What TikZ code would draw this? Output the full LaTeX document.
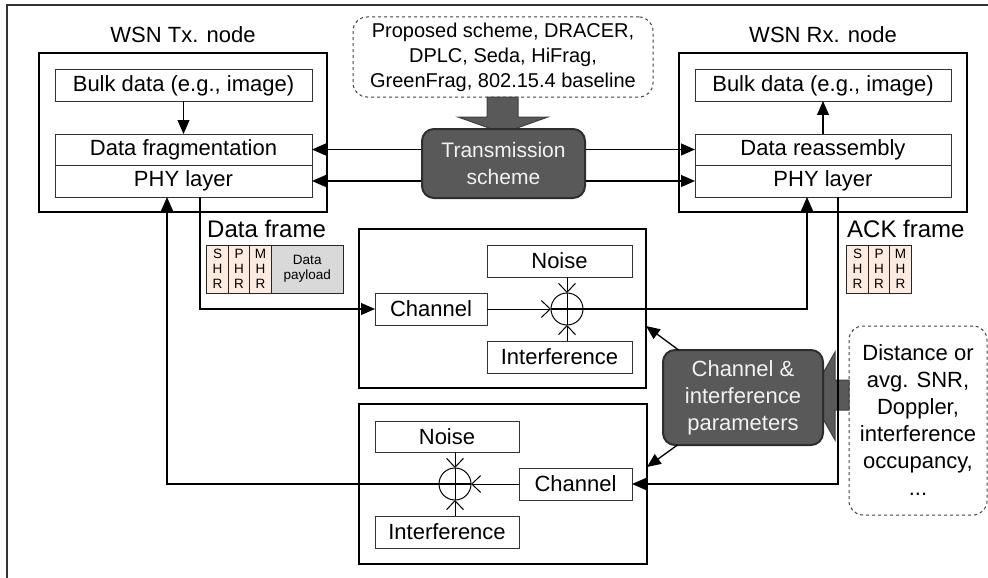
\documentclass[tikz,border=0pt]{standalone}
\usepackage{fontspec}
\setmainfont{Liberation Sans}
\usetikzlibrary{positioning}
\usetikzlibrary {shapes.geometric}
\usetikzlibrary {arrows.meta}

\definecolor{darkfill}{HTML}{595959}
\definecolor{darkline}{HTML}{2E2E2E}
\definecolor{lighttext}{HTML}{F2F2F2}
\definecolor{hdrfill}{HTML}{FDEBDF}
\definecolor{payfill}{HTML}{D9D9D9}

\begin{document}
\begin{tikzpicture}[x=1pt,y=-1pt,
        nodebox/.style = {draw, line width=2.5pt, inner sep=0pt, outer sep=0pt},
        layerbox/.style = {draw=black!80, line width=1pt, inner sep=0pt, outer sep=0pt, font=\fontsize{22}{26}\selectfont},
        darkbox/.style = {draw=darkline, fill=darkfill, line width=2pt, rounded corners=12pt, text=lighttext, align=center, inner sep=0pt, outer sep=0pt},
        notebox/.style = {draw=black!75, dashed, line width=1pt, rounded corners=14pt, align=center, inner sep=0pt},
        hdrcell/.style = {draw=black!85, fill=hdrfill, line width=1pt, minimum width=21.5pt, minimum height=48pt, inner sep=0pt, outer sep=0pt, align=center, font=\fontsize{13.5}{15}\selectfont},
        sumnode/.style = {circle, draw, line width=1pt, minimum size=32pt, inner sep=0pt, outer sep=0pt},
        link/.style = {line width=1.3pt, arrows = -{Triangle[angle=46:15pt]}},
        biglink/.style = {line width=1.5pt, arrows = {Triangle[angle=46:15pt]}-{Triangle[angle=46:15pt]}},
        barb/.style = {line width=1pt, arrows = -{Straight Barb[length=9pt,width=17pt]}},
        blockarrow/.style = {draw=black!75, fill=darkfill, line width=1pt}]

            \useasboundingbox (0,0) rectangle (988,578);
            %\draw [help lines, step=20] (0,0) grid (988,578);

            \draw[line width=2pt, black!80] (988,5) -| (7,578);

            % WSN nodes
            \path   (183,43) node (txtitle) [anchor=base, font=\fontsize{22}{26}\selectfont] {WSN Tx. node}
                    (183,132.5) node (tx) [nodebox, minimum width=288pt, minimum height=159pt] {}
                    (183.5,85.5) node (txbulk) [layerbox, minimum width=257pt, minimum height=31pt] {Bulk data (e.g., image)}
                    (183.5,149.5) node (txfrag) [layerbox, minimum width=257pt, minimum height=31pt] {Data fragmentation}
                    (183.5,181) node (txphy) [layerbox, minimum width=257pt, minimum height=32pt] {PHY layer}
                    (823,43) node (rxtitle) [anchor=base, font=\fontsize{22}{26}\selectfont] {WSN Rx. node}
                    (823,132.5) node (rx) [nodebox, minimum width=288pt, minimum height=159pt] {}
                    (823,85.5) node (rxbulk) [layerbox, minimum width=256pt, minimum height=31pt] {Bulk data (e.g., image)}
                    (823,149.5) node (rxreas) [layerbox, minimum width=256pt, minimum height=31pt] {Data reassembly}
                    (823,181) node (rxphy) [layerbox, minimum width=256pt, minimum height=32pt] {PHY layer};

            % channels
            \path   (502.5,308.5) node (chan1) [nodebox, minimum width=287pt, minimum height=159pt] {}
                    (431,309) node (ch1) [layerbox, minimum width=112pt, minimum height=32pt] {Channel}
                    (559.5,261) node (noise1) [layerbox, minimum width=145pt, minimum height=32pt] {Noise}
                    (559.5,357) node (intf1) [layerbox, minimum width=145pt, minimum height=32pt] {Interference}
                    (567,309) node (sum1) [sumnode] {}
                    (503,484) node (chan2) [nodebox, minimum width=288pt, minimum height=160pt] {}
                    (575.5,484) node (ch2) [layerbox, minimum width=113pt, minimum height=32pt] {Channel}
                    (447,436.5) node (noise2) [layerbox, minimum width=144pt, minimum height=31pt] {Noise}
                    (447,532) node (intf2) [layerbox, minimum width=144pt, minimum height=32pt] {Interference}
                    (455,484) node (sum2) [sumnode] {};

            % notes
            \path   (503,57) node (proposed) [notebox, minimum width=300pt, minimum height=80pt, font=\fontsize{20}{25}\selectfont]
                        {Proposed scheme, DRACER,\\DPLC, Seda, HiFrag,\\GreenFrag, 802.15.4 baseline}
                    (918,420.5) node (dist) [notebox, minimum width=138pt, minimum height=189pt, font=\fontsize{22}{27}\selectfont]
                        {Distance or\\avg. SNR,\\Doppler,\\interference\\occupancy,\\...};

            % frames
            \node (dflabel) [anchor=base west, inner sep=0pt, font=\fontsize{24}{28}\selectfont] at (207,237) {Data frame};
            \node (shr) [hdrcell] at (217.5,269) {S\\H\\R};
            \node (phr) [hdrcell, right=0pt of shr] {P\\H\\R};
            \node (mhr) [hdrcell, right=0pt of phr] {M\\H\\R};
            \node (payload) [hdrcell, fill=payfill, minimum width=72pt, right=0pt of mhr] {Data\\payload};
            \node (acklabel) [anchor=base west, inner sep=0pt, font=\fontsize{24}{28}\selectfont] at (847,237) {ACK frame};
            \node (ashr) [hdrcell] at (857.5,269) {S\\H\\R};
            \node (aphr) [hdrcell, right=0pt of ashr] {P\\H\\R};
            \node (amhr) [hdrcell, right=0pt of aphr] {M\\H\\R};

            \draw[link] (node cs: name =txbulk, anchor =south) -- (node cs: name =txfrag, anchor =north);
            \draw[link] (node cs: name =rxreas, anchor =north) -- (node cs: name =rxbulk, anchor =south);
            \draw[biglink] (txfrag.east) -- (rxreas.west);
            \draw[biglink] (txphy.east) -- (rxphy.west);

            \draw[blockarrow] (487,97) -- (487,117) -- (458,117) -- (503,133) -- (548,117) -- (518,117) -- (518,97) -- cycle;
            \draw[blockarrow] (849,380) -- (835,380) -- (835,352) -- (810,396) -- (835,440) -- (835,410) -- (849,410) -- cycle;

            \node (txsch) [darkbox, minimum width=163pt, minimum height=69pt, font=\fontsize{21}{27}\selectfont] at (503.5,163.5) {Transmission\\scheme};
            \node (cip) [darkbox, minimum width=160pt, minimum height=95pt, font=\fontsize{22}{27}\selectfont] at (743,397.5) {Channel \&\\interference\\parameters};

            % data frame Tx -> Rx
            \draw[link] ([xshift=16.5pt]txphy.south) |- (ch1.west);
            \draw[barb] (ch1.east) -- (sum1.west);
            \draw[link] (sum1.west) -| ([xshift=-16pt]rxphy.south);
            \draw[barb] (noise1.south -| sum1) -- (sum1.north);
            \draw[barb] (intf1.north -| sum1) -- (sum1.south);
            \draw[line width=1pt] (sum1.north) -- (sum1.south);

            % ACK frame Rx -> Tx
            \draw[link] ([xshift=15pt]rxphy.south) |- (ch2.east);
            \draw[barb] (ch2.west) -- (sum2.east);
            \draw[link] (sum2.east) -| ([xshift=-16.5pt]txphy.south);
            \draw[barb] (noise2.south -| sum2) -- (sum2.north);
            \draw[barb] (intf2.north -| sum2) -- (sum2.south);
            \draw[line width=1pt] (sum2.north) -- (sum2.south);

            \draw[link] (cip) -- ([yshift=62pt]chan1.south east);
            \draw[link] (cip) -- ([yshift=17pt]chan2.east);
\end{tikzpicture}
\end{document}
